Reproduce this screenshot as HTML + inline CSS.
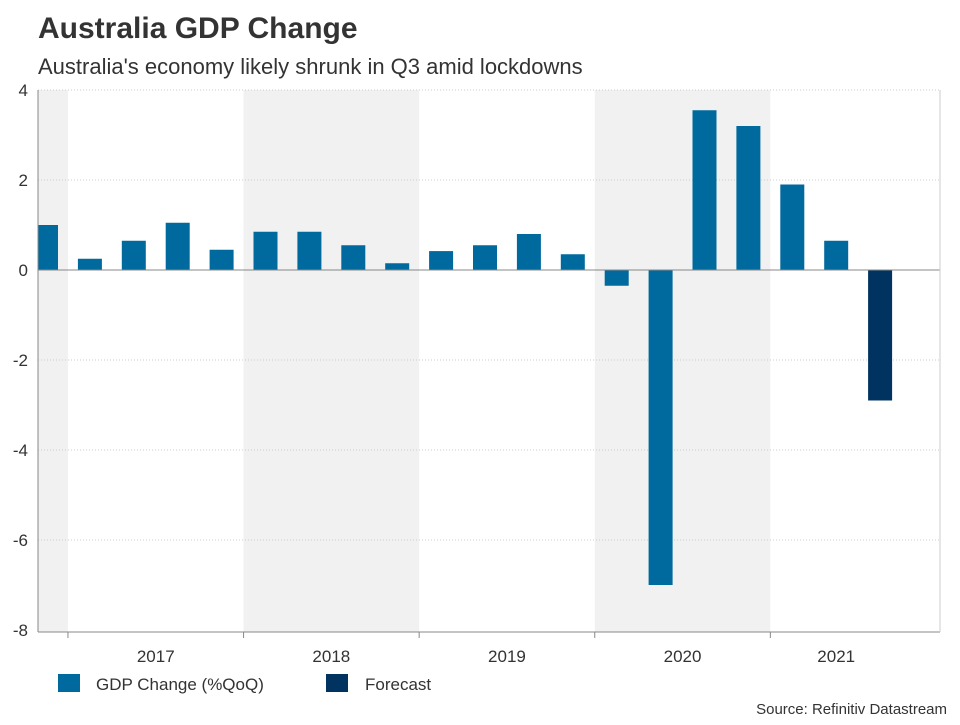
<!DOCTYPE html>
<html><head><meta charset="utf-8"><style>
body{margin:0;background:#fff;font-family:"Liberation Sans",Arial,sans-serif;}
svg text{font-family:"Liberation Sans",Arial,sans-serif;}
</style></head><body>
<svg id="chart" width="960" height="720" viewBox="0 0 960 720" xmlns="http://www.w3.org/2000/svg">
<text x="38" y="38" font-size="30" font-weight="bold" fill="#333">Australia GDP Change</text>
<text x="38" y="74" font-size="22" fill="#333">Australia's economy likely shrunk in Q3 amid lockdowns</text>
<g id="bands"></g><g id="grid"></g><g id="bars"></g><g id="axes"></g>
<g>
<rect x="58" y="674" width="22" height="18" fill="#006a9e"/>
<text x="96" y="690" font-size="17" fill="#333">GDP Change (%QoQ)</text>
<rect x="326" y="674" width="22" height="18" fill="#00335f"/>
<text x="365" y="690" font-size="17" fill="#333">Forecast</text>
</g>
<text x="947" y="714" font-size="15" fill="#333" text-anchor="end">Source: Refinitiv Datastream</text>
</svg>
<script>
const values=[1.0,0.25,0.65,1.05,0.45,0.85,0.85,0.55,0.15,0.42,0.55,0.8,0.35,-0.35,-7.0,3.55,3.2,1.9,0.65,-2.9];
const forecastFlags=[0,0,0,0,0,0,0,0,0,0,0,0,0,0,0,0,0,0,0,1];
const years=["2017","2018","2019","2020","2021"];
const yTicks=[4,2,0,-2,-4,-6,-8];
const NS="http://www.w3.org/2000/svg";
const L=38,R=940,T=90,B=630,yMax=4,yMin=-8;
const y=v=>T+(yMax-v)/(yMax-yMin)*(B-T);
const step=43.9,x0=46;
const x=i=>x0+step*i;
function mk(tag,attrs,parent){const e=document.createElementNS(NS,tag);for(const k in attrs)e.setAttribute(k,attrs[k]);document.getElementById(parent).appendChild(e);return e;}
const bound=k=>x(1+4*k)-step/2;
[[L,bound(0)],[bound(1),bound(2)],[bound(3),bound(4)]].forEach(b=>{
 const r=mk('rect',{x:b[0],y:T,width:b[1]-b[0],height:B-T+2,fill:'#f1f1f1'},'bands');
 
 
});
yTicks.forEach(t=>{
 if(t!==0&&t!==yMin){const g=mk('line',{x1:L,x2:R,y1:y(t),y2:y(t),stroke:'#ccc','stroke-dasharray':'1,2','stroke-width':1},'grid');
 
 }
 const tx=mk('text',{x:28,y:y(t)+6,'font-size':17,fill:'#333','text-anchor':'end'},'axes');
 tx.textContent=t;
 
 
});
values.forEach((v,i)=>{
 let x1=x(i)-12,x2=x(i)+12;if(x1<L)x1=L;
 const r=mk('rect',{x:x1,y:Math.min(y(v),y(0)),width:x2-x1,height:Math.abs(y(v)-y(0)),fill:forecastFlags[i]?'#00335f':'#006a9e'},'bars');
 
 
});
const zl=mk('line',{x1:L,x2:R,y1:y(0),y2:y(0),stroke:'#888','stroke-width':1},'axes');


const ax=mk('line',{x1:L,x2:R,y1:B+2,y2:B+2,stroke:'#888','stroke-width':1},'axes');


const ay=mk('line',{x1:L,x2:L,y1:T,y2:B+2,stroke:'#888','stroke-width':1},'axes');


const ar=mk('line',{x1:R,x2:R,y1:T,y2:B+2,stroke:'#ccc','stroke-width':1},'axes');


for(let k=0;k<=4;k++){const tk=mk('line',{x1:bound(k),x2:bound(k),y1:B+2,y2:B+8,stroke:'#888'},'axes');
 
 }
years.forEach((yr,k)=>{
 const cx=k<4?(bound(k)+bound(k+1))/2:(x(17)+x(19))/2;
 const t=mk('text',{x:cx,y:662,'font-size':17,fill:'#333','text-anchor':'middle'},'axes');
 t.textContent=yr;
 
 
});
</script>
</body></html>
